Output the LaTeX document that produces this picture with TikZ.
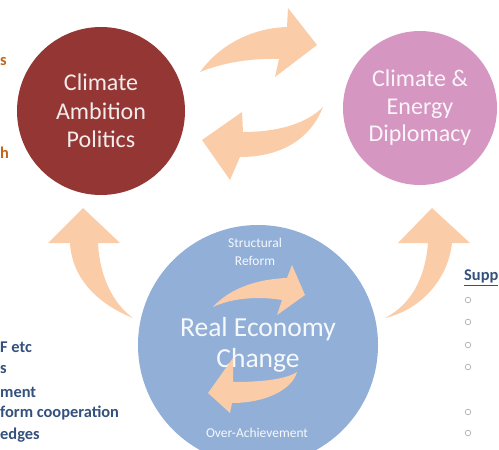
\documentclass[tikz,border=0pt]{standalone}
\usepackage{fontspec}
\setmainfont{Carlito}
\usetikzlibrary{positioning}
\definecolor{ambition}{HTML}{943634}
\definecolor{diplomacy}{HTML}{D596C2}
\definecolor{economy}{HTML}{92AFD8}
\definecolor{peach}{HTML}{FACDA8}
\definecolor{orangetext}{HTML}{C0651C}
\definecolor{bluetext}{HTML}{34517E}
\tikzset{
    x=0.03cm, y=-0.03cm,
    state/.style={circle, draw=none, align=center, inner sep=0pt},
    flow/.style={fill=peach, draw=none},
    side/.style={anchor=west, inner sep=0pt, font=\bfseries\fontsize{14}{16}\selectfont},
    small/.style={inner sep=0pt, align=center, text=white!92!economy, font=\fontsize{11.5}{15}\selectfont},
    bullet/.style={circle, draw=gray!70, line width=0.5pt, minimum size=4.8pt, inner sep=0pt}
}
\begin{document}
\begin{tikzpicture}
    \useasboundingbox (0,0) rectangle (499,450);
    \clip (0,0) rectangle (499,450);

    % the three circles
    \node[state, fill=ambition, minimum size=5.04cm, text=white!90!ambition,
      font=\fontsize{20.5}{24.5}\selectfont] (cap) at (101,111) {Climate\\Ambition\\Politics};
    \node[state, fill=diplomacy, minimum size=4.62cm, text=white!90!diplomacy,
      font=\fontsize{20.5}{23.5}\selectfont] (ced) at (420,108) {Climate \&\\Energy\\Diplomacy};
    \node[state, fill=economy, minimum size=7.2cm, text=white!92!economy,
      font=\fontsize{23.5}{26}\selectfont] (rec) at (258,345) {Real Economy\\Change};
    \node[small] (sr) at (255,252) {Structural\\Reform};
    \node[small] (oa) at (257,433) {Over-Achievement};

    % block arrows
    \fill[flow] (200,72) .. controls (222,42) and (255,28) .. (287,27) -- (288,8) -- (317,45)
      -- (275,77) -- (279,59) .. controls (250,58) and (222,63) .. (200,72) -- cycle;
    \fill[flow] (323,107) .. controls (310,140) and (280,157) .. (240,157) -- (230,180) -- (202,140)
      -- (242,112) -- (243,132) .. controls (275,132) and (305,125) .. (323,107) -- cycle;
    \fill[flow] (133,318) .. controls (100,305) and (72,280) .. (70,243) -- (48,243) -- (83,208)
      -- (120,243) -- (98,243) .. controls (100,280) and (115,305) .. (133,318) -- cycle;
    \fill[flow] (385,318) .. controls (420,310) and (448,280) .. (452,243) -- (470,243) -- (432,208)
      -- (398,243) -- (428,243) .. controls (425,280) and (410,305) .. (385,318) -- cycle;
    \fill[flow] (213,307) .. controls (230,288) and (258,279) .. (287,278) -- (292,265) -- (305,295)
      -- (277,315) -- (282,300) .. controls (258,296) and (232,298) .. (213,307) -- cycle;
    \fill[flow] (297,372) .. controls (292,390) and (265,403) .. (232,403) -- (230,413) -- (208,393)
      -- (233,358) -- (233,382) .. controls (258,382) and (285,380) .. (297,372) -- cycle;

    % cut-off side texts
    \node[side, text=orangetext] (l1) at (0,62) {s};
    \node[side, text=orangetext] (l2) at (0,153) {h};
    \node[side, text=bluetext] (b1) at (0,347) {F etc};
    \node[side, text=bluetext] (b2) at (0,370) {s};
    \node[side, text=bluetext] (b3) at (0,392) {ment};
    \node[side, text=bluetext] (b4) at (0,413) {form cooperation};
    \node[side, text=bluetext] (b5) at (0,435) {edges};

    \node[side, text=bluetext] (supp) at (464,278) {\underline{Supp}};
    \foreach \y in {300,322,345,367,412,433}
      \node[bullet] at (468,\y) {};
\end{tikzpicture}
\end{document}
